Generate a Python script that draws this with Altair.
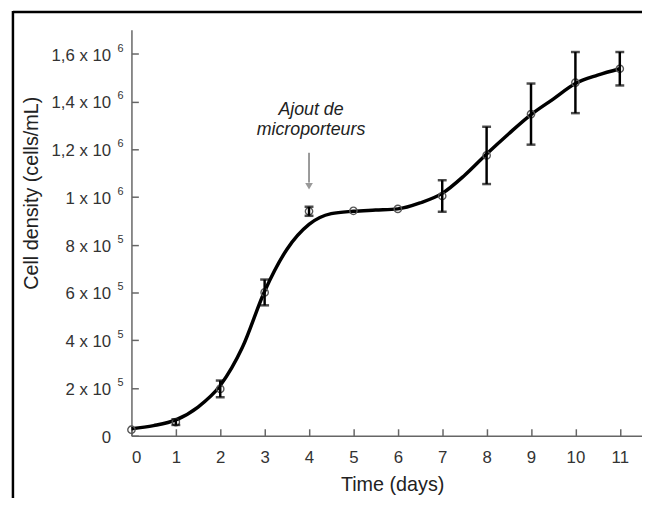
import altair as alt
import pandas as pd

# Measured points (days, cells/mL) with error bars
days = [0, 1, 2, 3, 4, 5, 6, 7, 8, 9, 10, 11]
density = [0.25e5, 0.57e5, 1.96e5, 6.0e5, 9.4e5, 9.42e5, 9.5e5, 10.04e5, 11.74e5, 13.47e5, 14.79e5, 15.37e5]
error = [0, 0.12e5, 0.35e5, 0.54e5, 0.19e5, 0, 0, 0.66e5, 1.2e5, 1.28e5, 1.28e5, 0.7e5]

# Smoothed fitted curve
fit_days = [0, 0.5, 1, 1.5, 2, 2.5, 3, 3.5, 4, 4.5, 5, 5.5, 6, 6.5, 7, 7.5, 8, 8.5, 9, 9.5, 10, 10.5, 11]
fit_density = [0.29e5, 0.42e5, 0.66e5, 1.2e5, 2.1e5, 3.7e5, 6.05e5, 7.8e5, 8.85e5, 9.3e5, 9.4e5, 9.45e5,
               9.5e5, 9.75e5, 10.15e5, 10.9e5, 11.8e5, 12.65e5, 13.45e5, 14.1e5, 14.75e5, 15.1e5, 15.37e5]

x_ticks = list(range(0, 12))
y_ticks = [0, 2e5, 4e5, 6e5, 8e5, 1e6, 1.2e6, 1.4e6, 1.6e6]
y_exponents = ["", "5", "5", "5", "5", "6", "6", "6", "6"]

annot_day = [4]
annot_text = [["Ajout de", "microporteurs"]]
annot_y = [1.345e6]
arrow_top = [1.185e6]
arrow_bottom = [1.06e6]
arrow_head = [1.045e6]

pts = pd.DataFrame({"day": days, "density": density, "err": error})
pts["lo"] = pts["density"] - pts["err"]
pts["hi"] = pts["density"] + pts["err"]
bars = pts[pts["err"] > 0]
fit = pd.DataFrame({"day": fit_days, "density": fit_density})
ann = pd.DataFrame({"day": annot_day, "text": annot_text, "y": annot_y,
                    "top": arrow_top, "bottom": arrow_bottom, "head": arrow_head})
exps = pd.DataFrame({"value": y_ticks, "exp": y_exponents})

FONT = "Liberation Sans"
label_expr = (
    "datum.value == 0 ? '0' : datum.value < 1e6 ? format(datum.value/1e5, 'd') + ' x 10' : "
    "(datum.value == 1e6 ? '1' : replace(format(datum.value/1e6, '.1f'), '.', ',')) + ' x 10'"
)

xscale = alt.Scale(domain=[0, 11.5], nice=False, zero=False)
yscale = alt.Scale(domain=[0, 1.7e6], nice=False)

xaxis = alt.Axis(values=x_ticks, title="Time (days)", grid=False,
                 tickSize=alt.ExprRef("-7"), labelPadding=21.5,
                 titleX=264, titleY=56, titleBaseline="alphabetic", titleAlign="center")
yaxis = alt.Axis(values=y_ticks, title="Cell density (cells/mL)", grid=False,
                 labelExpr=label_expr, tickSize=alt.ExprRef("-7"), labelPadding=28, labelOffset=1.5,
                 titleX=-101, titleY=165, titleBaseline="middle", titleAlign="center", titleAngle=-90)

base = alt.Chart(fit)

curve = base.mark_line(color="black", strokeWidth=3.5, interpolate="monotone").encode(
    x=alt.X("day:Q", scale=xscale, axis=xaxis),
    y=alt.Y("density:Q", scale=yscale, axis=yaxis),
)

circles = alt.Chart(pts).mark_point(shape="circle", size=55, filled=False, color="#555",
                                    strokeWidth=1.4, opacity=1).encode(
    x=alt.X("day:Q", scale=xscale), y=alt.Y("density:Q", scale=yscale))

err_rule = alt.Chart(bars).mark_rule(color="black", strokeWidth=2.5).encode(
    x=alt.X("day:Q", scale=xscale), y=alt.Y("lo:Q", scale=yscale), y2="hi:Q")
cap_lo = alt.Chart(bars).mark_tick(color="black", orient="horizontal", size=9, thickness=2.5).encode(
    x=alt.X("day:Q", scale=xscale), y=alt.Y("lo:Q", scale=yscale))
cap_hi = alt.Chart(bars).mark_tick(color="black", orient="horizontal", size=9, thickness=2.5).encode(
    x=alt.X("day:Q", scale=xscale), y=alt.Y("hi:Q", scale=yscale))

exp_text = alt.Chart(exps).mark_text(font=FONT, fontSize=11, color="#333", align="left",
                                     baseline="alphabetic", dy=-2, clip=False).encode(
    x=alt.value(-14), y=alt.Y("value:Q", scale=yscale), text="exp")

annot = alt.Chart(ann).mark_text(font=FONT, fontSize=18, fontStyle="italic", color="#222",
                                  align="center", baseline="alphabetic", lineHeight=21, dx=2).encode(
    x=alt.X("day:Q", scale=xscale), y=alt.Y("y:Q", scale=yscale), text="text")
arrow = alt.Chart(ann).mark_rule(color="#999", strokeWidth=2).encode(
    x=alt.X("day:Q", scale=xscale), y=alt.Y("top:Q", scale=yscale), y2="bottom:Q")
arrow_h = alt.Chart(ann).mark_point(shape="triangle-down", size=60, filled=True, color="#999", opacity=1).encode(
    x=alt.X("day:Q", scale=xscale), y=alt.Y("head:Q", scale=yscale))

frame_top = alt.Chart(ann).mark_rule(color="black", strokeWidth=2.5, clip=False).encode(
    x=alt.value(-120), x2=alt.value(520), y=alt.value(-18))
frame_left = alt.Chart(ann).mark_rule(color="black", strokeWidth=2.5, clip=False).encode(
    x=alt.value(-120), y=alt.value(-19), y2=alt.value(490))

chart = alt.layer(curve, circles, err_rule, cap_lo, cap_hi, arrow, arrow_h, annot, exp_text,
                  frame_top, frame_left).properties(
    width=517, height=411,
    padding={"left": 125, "top": 19, "right": 0, "bottom": 60},
    autosize=alt.AutoSizeParams(type="none"),
    background="white",
).configure_view(stroke=None).configure_axis(
    domainColor="#666", domainWidth=1.5, tickColor="#666", tickWidth=1.5,
    labelFont=FONT, labelFontSize=17, labelColor="#333",
    titleFont=FONT, titleFontSize=20, titleColor="#222", titleFontWeight="normal",
)

chart.save("out.html", embed_options={"renderer": "svg", "actions": False})
